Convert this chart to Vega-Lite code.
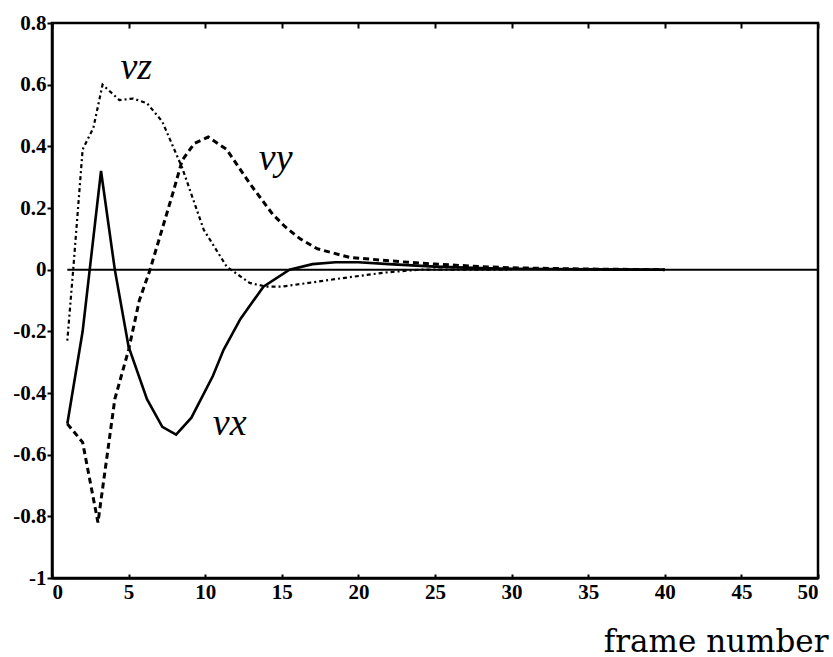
{
  "$schema": "https://vega.github.io/schema/vega-lite/v6.json",
  "width": 766,
  "height": 555,
  "autosize": {"type": "none"},
  "padding": {"left": 52, "top": 23, "right": 15, "bottom": 79},
  "background": "white",
  "config": {
    "view": {"stroke": "black", "strokeWidth": 2.5}
  },
  "datasets": {
    "bias": [
      {"frame": 1, "value": -0.5, "series": "vx"},
      {"frame": 2, "value": -0.2, "series": "vx"},
      {"frame": 3.2, "value": 0.32, "series": "vx"},
      {"frame": 4.1, "value": 0.0, "series": "vx"},
      {"frame": 5, "value": -0.25, "series": "vx"},
      {"frame": 6.2, "value": -0.42, "series": "vx"},
      {"frame": 7.2, "value": -0.51, "series": "vx"},
      {"frame": 8.1, "value": -0.535, "series": "vx"},
      {"frame": 9.1, "value": -0.48, "series": "vx"},
      {"frame": 10.5, "value": -0.345, "series": "vx"},
      {"frame": 11.2, "value": -0.26, "series": "vx"},
      {"frame": 12.3, "value": -0.16, "series": "vx"},
      {"frame": 13.8, "value": -0.055, "series": "vx"},
      {"frame": 15.5, "value": 0.0, "series": "vx"},
      {"frame": 17, "value": 0.018, "series": "vx"},
      {"frame": 18.5, "value": 0.024, "series": "vx"},
      {"frame": 20, "value": 0.024, "series": "vx"},
      {"frame": 22, "value": 0.018, "series": "vx"},
      {"frame": 25, "value": 0.01, "series": "vx"},
      {"frame": 28, "value": 0.005, "series": "vx"},
      {"frame": 30, "value": 0.003, "series": "vx"},
      {"frame": 35, "value": 0.001, "series": "vx"},
      {"frame": 40, "value": 0.0, "series": "vx"},
      {"frame": 1, "value": -0.5, "series": "vy"},
      {"frame": 2, "value": -0.56, "series": "vy"},
      {"frame": 3, "value": -0.82, "series": "vy"},
      {"frame": 4.1, "value": -0.42, "series": "vy"},
      {"frame": 5, "value": -0.26, "series": "vy"},
      {"frame": 5.7, "value": -0.1, "series": "vy"},
      {"frame": 6.4, "value": 0.0, "series": "vy"},
      {"frame": 7, "value": 0.1, "series": "vy"},
      {"frame": 7.9, "value": 0.25, "series": "vy"},
      {"frame": 8.5, "value": 0.355, "series": "vy"},
      {"frame": 9.3, "value": 0.41, "series": "vy"},
      {"frame": 10.2, "value": 0.43, "series": "vy"},
      {"frame": 11.4, "value": 0.39, "series": "vy"},
      {"frame": 12.9, "value": 0.28, "series": "vy"},
      {"frame": 14.4, "value": 0.18, "series": "vy"},
      {"frame": 15.2, "value": 0.14, "series": "vy"},
      {"frame": 16.2, "value": 0.1, "series": "vy"},
      {"frame": 17.3, "value": 0.068, "series": "vy"},
      {"frame": 19.4, "value": 0.04, "series": "vy"},
      {"frame": 22.7, "value": 0.026, "series": "vy"},
      {"frame": 25, "value": 0.018, "series": "vy"},
      {"frame": 28, "value": 0.01, "series": "vy"},
      {"frame": 30, "value": 0.006, "series": "vy"},
      {"frame": 35, "value": 0.002, "series": "vy"},
      {"frame": 40, "value": 0.0, "series": "vy"},
      {"frame": 1, "value": -0.23, "series": "vz"},
      {"frame": 1.4, "value": 0.01, "series": "vz"},
      {"frame": 2, "value": 0.39, "series": "vz"},
      {"frame": 2.7, "value": 0.46, "series": "vz"},
      {"frame": 3.3, "value": 0.6, "series": "vz"},
      {"frame": 4.4, "value": 0.55, "series": "vz"},
      {"frame": 5.3, "value": 0.555, "series": "vz"},
      {"frame": 6.2, "value": 0.54, "series": "vz"},
      {"frame": 7.2, "value": 0.48, "series": "vz"},
      {"frame": 8.5, "value": 0.33, "series": "vz"},
      {"frame": 9.9, "value": 0.13, "series": "vz"},
      {"frame": 11.4, "value": 0.01, "series": "vz"},
      {"frame": 12.9, "value": -0.043, "series": "vz"},
      {"frame": 14, "value": -0.055, "series": "vz"},
      {"frame": 15, "value": -0.055, "series": "vz"},
      {"frame": 18.3, "value": -0.032, "series": "vz"},
      {"frame": 21.6, "value": -0.01, "series": "vz"},
      {"frame": 24, "value": 0.0, "series": "vz"},
      {"frame": 30, "value": 0.0, "series": "vz"}
    ],
    "labels": [
      {"frame": 11.6, "value": -0.5, "text": "vx"},
      {"frame": 14.6, "value": 0.36, "text": "vy"},
      {"frame": 5.5, "value": 0.655, "text": "vz"}
    ]
  },
  "layer": [
    {
      "data": {"values": [{"x0": 1, "x1": 50, "y": 0}]},
      "mark": {"type": "rule", "color": "black", "strokeWidth": 2},
      "encoding": {
        "x": {
          "field": "x0", "type": "quantitative",
          "scale": {"domain": [0, 50], "nice": false, "zero": false},
          "axis": {"values": [0,5,10,15,20,25,30,35,40,45,50], "grid": false,
                   "domain": true, "domainColor": "black", "domainWidth": 2.5,
                   "ticks": true, "tickColor": "black", "tickWidth": 2, "tickSize": -4,
                   "labelFont": "Liberation Serif", "labelFontWeight": "bold", "labelFontSize": 21,
                   "labelColor": "black", "labelPadding": 7,
                   "title": "frame number",
                   "titleFont": "DejaVu Serif", "titleFontSize": 31, "titleFontWeight": "normal",
                   "titleAnchor": "end", "titleAlign": "right", "titleBaseline": "alphabetic",
                   "titleX": 776, "titleY": 73, "titleColor": "black"}
        },
        "x2": {"field": "x1"},
        "y": {
          "field": "y", "type": "quantitative",
          "scale": {"domain": [-1, 0.8], "nice": false, "zero": false},
          "axis": {"values": [-1,-0.8,-0.6,-0.4,-0.2,0,0.2,0.4,0.6,0.8], "grid": false,
                   "domain": true, "domainColor": "black", "domainWidth": 2.5,
                   "ticks": true, "tickColor": "black", "tickWidth": 2, "tickSize": 5,
                   "labelFont": "Liberation Serif", "labelFontWeight": "bold", "labelFontSize": 21,
                   "labelColor": "black", "labelPadding": 1,
                   "labelExpr": "'' + datum.value", "title": null}
        }
      }
    },
    {
      "data": {"name": "bias"},
      "transform": [{"filter": "datum.series === 'vx'"}],
      "mark": {"type": "line", "color": "black", "strokeWidth": 2.6},
      "encoding": {
        "x": {"field": "frame", "type": "quantitative",
              "axis": {"orient": "top", "labels": false, "title": null, "grid": false,
                       "domain": false, "ticks": true, "tickColor": "black", "tickWidth": 2, "tickSize": -5,
                       "values": [0,5,10,15,20,25,30,35,40,45,50]}},
        "y": {"field": "value", "type": "quantitative"}
      }
    },
    {
      "data": {"name": "bias"},
      "transform": [{"filter": "datum.series === 'vy'"}],
      "mark": {"type": "line", "color": "black", "strokeWidth": 3, "strokeDash": [6, 4]},
      "encoding": {
        "x": {"field": "frame", "type": "quantitative", "axis": null},
        "y": {"field": "value", "type": "quantitative"}
      }
    },
    {
      "data": {"name": "bias"},
      "transform": [{"filter": "datum.series === 'vz'"}],
      "mark": {"type": "line", "color": "black", "strokeWidth": 2.2, "strokeDash": [2, 3, 4, 3]},
      "encoding": {
        "x": {"field": "frame", "type": "quantitative", "axis": null},
        "y": {"field": "value", "type": "quantitative"}
      }
    },
    {
      "data": {"name": "labels"},
      "mark": {"type": "text", "font": "Liberation Serif", "fontStyle": "italic", "fontSize": 38, "color": "black", "align": "center", "baseline": "middle"},
      "encoding": {
        "x": {"field": "frame", "type": "quantitative", "axis": null},
        "y": {"field": "value", "type": "quantitative"},
        "text": {"field": "text"}
      }
    },
    {
      "mark": {"type": "text", "font": "DejaVu Serif", "fontSize": 33, "color": "black", "align": "center", "baseline": "middle"},
      "encoding": {
        "x": {"datum": 24.6, "axis": null},
        "y": {"datum": 0.74},
        "text": {"value": "velocity bias"}
      }
    }
  ],
  "resolve": {"axis": {"x": "independent"}}
}
